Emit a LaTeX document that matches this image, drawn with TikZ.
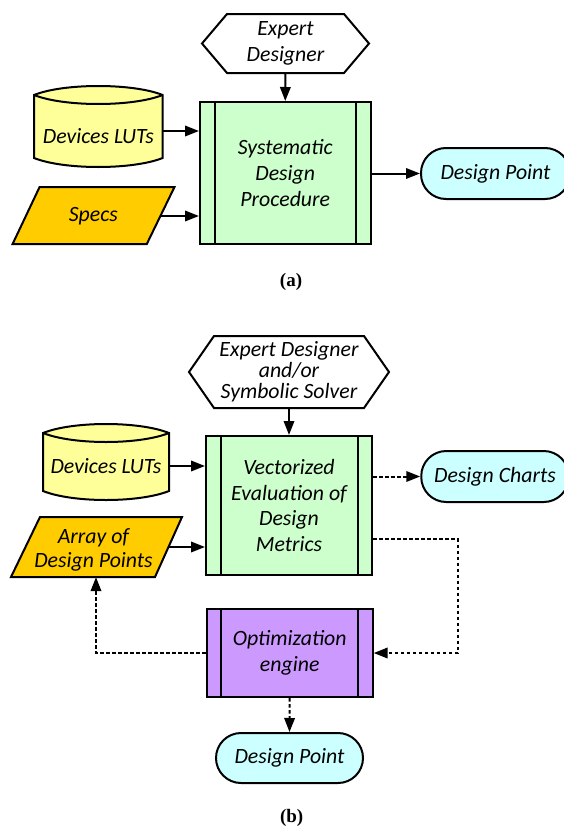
\documentclass[tikz,border=0pt]{standalone}
\usepackage{fontspec}
\setmainfont{Carlito}
\newfontfamily\capfont{Liberation Serif}
\usetikzlibrary{arrows.meta,calc}
\definecolor{procgreen}{HTML}{CCFFCC}
\definecolor{cylyellow}{HTML}{FFFF99}
\definecolor{paryellow}{HTML}{FFCC00}
\definecolor{termcyan}{HTML}{CCFFFF}
\definecolor{optpurple}{HTML}{CC99FF}
% hexagon: L T R B chamfer
\newcommand\drawhex[5]{%
  \draw[shapeline,fill=white] (#1+#5,#2) -- (#3-#5,#2) -- (#3,{(#2+#4)/2}) -- (#3-#5,#4) -- (#1+#5,#4) -- (#1,{(#2+#4)/2}) -- cycle;}
% cylinder: L T R B lens
\newcommand\drawcyl[5]{%
  \draw[shapeline,fill=cylyellow] (#1,#2+#5) .. controls (#1+30,#2-#5/3) and (#3-30,#2-#5/3) .. (#3,#2+#5)
     -- (#3,#4-#5) .. controls (#3-30,#4+#5/3) and (#1+30,#4+#5/3) .. (#1,#4-#5) -- cycle;
  \draw[shapeline] (#1,#2+#5) .. controls (#1+30,#2+#5*7/3) and (#3-30,#2+#5*7/3) .. (#3,#2+#5);}
% parallelogram: topL topR topY botL botR botY
\newcommand\drawpar[6]{%
  \draw[shapeline,fill=paryellow] (#1,#3) -- (#2,#3) -- (#5,#6) -- (#4,#6) -- cycle;}
\begin{document}
\begin{tikzpicture}[x=1pt,y=-1pt,
  shapeline/.style={draw=black,line width=2pt,line join=miter},
  txt/.style={font=\fontsize{21.8}{26}\selectfont\itshape,align=center,inner sep=0pt},
  proc/.style={shapeline,txt},
  term/.style={shapeline,txt,fill=termcyan,rounded corners=25pt},
  arr/.style={line width=2pt,-{Triangle[length=14pt,width=10.5pt]}},
  darr/.style={arr,dash pattern=on 3.5pt off 2.5pt},
  caplabel/.style={font=\capfont\bfseries\fontsize{19}{21}\selectfont,inner sep=0pt}]
\useasboundingbox (0,0) rectangle (564,827);
\fill[white] (0,0) rectangle (564,827);

% ---------------- (a) ----------------
\drawhex{202}{14}{369}{73}{25}
\node[txt,minimum width=167pt,minimum height=59pt] (hexA) at (285.5,43.5) {Expert\\Designer};

\node[proc,fill=procgreen,minimum width=170.5pt,minimum height=142pt] (boxA) at (285.25,173) {Systematic\\Design\\Procedure};
\draw[shapeline] ([xshift=16pt]boxA.north west) -- ([xshift=16pt]boxA.south west)
                 ([xshift=-15.5pt]boxA.north east) -- ([xshift=-15.5pt]boxA.south east);

\drawcyl{34}{86}{162.6}{167}{9}
\node[txt,minimum width=128.6pt,minimum height=50pt] (cylA) at (98.3,136) {Devices LUTs};

\drawpar{39.6}{174.5}{187}{12.6}{146.8}{244}
\node[txt,minimum width=135pt,minimum height=57pt] (parA) at (93.4,216) {Specs};

\node[term,minimum width=149pt,minimum height=51pt] (dpA) at (495.5,173.5) {Design Point};

\draw[arr] (hexA.south) -- (boxA.north);
\coordinate (cA) at ([yshift=5pt]cylA.east);
\draw[arr] (cA) -- (cA -| boxA.west);
\draw[arr] (parA.east) -- (parA.east -| boxA.west);
\draw[arr] (dpA.west -| boxA.east) -- (dpA.west);

\node[caplabel] (capA) at (291,282) {(a)};

% ---------------- (b) ----------------
\drawhex{189}{336}{389}{408}{25}
\node[txt,font=\fontsize{21.8}{21}\selectfont\itshape,minimum width=200pt,minimum height=72pt] (hexB) at (289,372) {Expert Designer\\and/or\\Symbolic Solver};

\node[proc,fill=procgreen,font=\fontsize{21.8}{25.5}\selectfont\itshape,minimum width=166pt,minimum height=139pt] (boxB) at (289,505.5) {Vectorized\\Evaluation of\\Design\\Metrics};
\draw[shapeline] ([xshift=16pt]boxB.north west) -- ([xshift=16pt]boxB.south west)
                 ([xshift=-15pt]boxB.north east) -- ([xshift=-15pt]boxB.south east);

\drawcyl{43}{424}{169}{500}{9}
\node[txt,minimum width=126pt,minimum height=50pt] (cylB) at (106,466) {Devices LUTs};

\drawpar{40}{182}{517}{11}{155}{577}
\node[txt,font=\fontsize{21.8}{23.5}\selectfont\itshape,minimum width=149pt,minimum height=60pt] (parB) at (93.5,550) {Array of\\Design Points};

\node[term,minimum width=147.5pt,minimum height=51pt] (dcB) at (495,476.5) {Design Charts};

\node[proc,fill=optpurple,minimum width=166pt,minimum height=88pt] (optB) at (289.7,653) {Optimization\\engine};
\draw[shapeline] ([xshift=15.5pt]optB.north west) -- ([xshift=15.5pt]optB.south west)
                 ([xshift=-15.5pt]optB.north east) -- ([xshift=-15.5pt]optB.south east);

\node[term,minimum width=147pt,minimum height=50pt] (dpB) at (289.5,758) {Design Point};

\draw[arr] (hexB.south) -- (boxB.north);
\draw[arr] (cylB.east) -- (cylB.east -| boxB.west);
\coordinate (cB) at ([yshift=3pt]parB.east);
\draw[arr] (cB) -- (cB -| boxB.west);
\draw[darr] (dcB.west -| boxB.east) -- (dcB.west);
\coordinate (turn) at (457.5,539);
\draw[darr] (turn -| boxB.east) -- (turn) |- (optB.east);
\draw[darr] (optB.west) -| ([xshift=2.5pt,yshift=3pt]parB.south);
\draw[darr] (optB.south) -- (dpB.north);

\node[caplabel] (capB) at (291.7,818) {(b)};
\end{tikzpicture}
\end{document}
